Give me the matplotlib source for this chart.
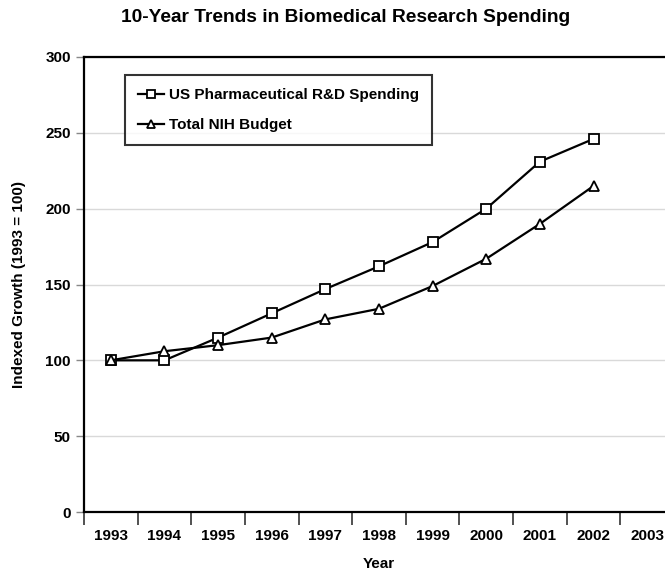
import matplotlib
matplotlib.use('Agg')
import matplotlib.pyplot as plt
import numpy as np

plt.rcParams['font.family'] = ['Liberation Sans', 'DejaVu Sans']

YEARS = ['1993', '1994', '1995', '1996', '1997', '1998', '1999', '2000', '2001', '2002', '2003']
PHARMA = [100, 100, 115, 131, 147, 162, 178, 200, 231, 246]
NIH = [100, 106, 110, 115, 127, 134, 149, 167, 190, 215]

W, H = 665, 571
fig = plt.figure(figsize=(W / 100, H / 100), dpi=100)
# axes box in pixels: left 84, right 674 (runs off the image), top 57, bottom 512
ax = fig.add_axes([84 / W, 1 - 512 / H, 590 / W, 455 / H])

x = np.arange(len(PHARMA))
ax.plot(x, PHARMA, '-s', color='black', lw=1.6, ms=7, mfc='white', mec='black',
        mew=1.3, label='US Pharmaceutical R&D Spending', zorder=3)
ax.plot(x, NIH, '-^', color='black', lw=1.6, ms=7, mfc='white', mec='black',
        mew=1.3, label='Total NIH Budget', zorder=3)

ax.set_xlim(-0.5, len(YEARS) - 0.5)
ax.set_ylim(0, 300)
ax.set_yticks(np.arange(0, 301, 50))
ax.set_xticks(np.arange(len(YEARS)))
ax.set_xticklabels(YEARS)
ax.set_xticks(np.arange(len(YEARS) + 1) - 0.5, minor=True)
ax.tick_params(axis='x', which='major', length=0, pad=12, labelsize=11)
ax.tick_params(axis='x', which='minor', length=9, width=1.2, direction='out', color='#333333')
ax.tick_params(axis='y', length=6, width=1.0, labelsize=11, color='#888888')
for lbl in ax.get_xticklabels() + ax.get_yticklabels():
    lbl.set_fontweight('bold')

for sp in ['left', 'bottom', 'top']:
    ax.spines[sp].set_linewidth(1.6)
ax.spines['right'].set_visible(False)
ax.grid(axis='y', color='#d9d9d9', lw=1.0)
ax.set_axisbelow(True)

ax.set_xlabel('Year', fontsize=11, fontweight='bold', labelpad=10)
ax.set_ylabel('Indexed Growth (1993 = 100)', fontsize=11, fontweight='bold', labelpad=14)

leg = ax.legend(loc='upper left', bbox_to_anchor=(41 / 590, (512 - 75) / 455),
                borderaxespad=0, prop={'weight': 'bold', 'size': 11},
                frameon=True, fancybox=False, markerscale=0.75,
                handlelength=1.7, handletextpad=0.35, borderpad=0.85, labelspacing=1.05)
leg.get_frame().set_edgecolor('black')
leg.get_frame().set_linewidth(1.5)

fig.text(0.519, 1 - 18 / H, '10-Year Trends in Biomedical Research Spending',
         ha='center', va='center', fontsize=13.8, fontweight='bold')

fig.savefig('out.png', dpi=100)
